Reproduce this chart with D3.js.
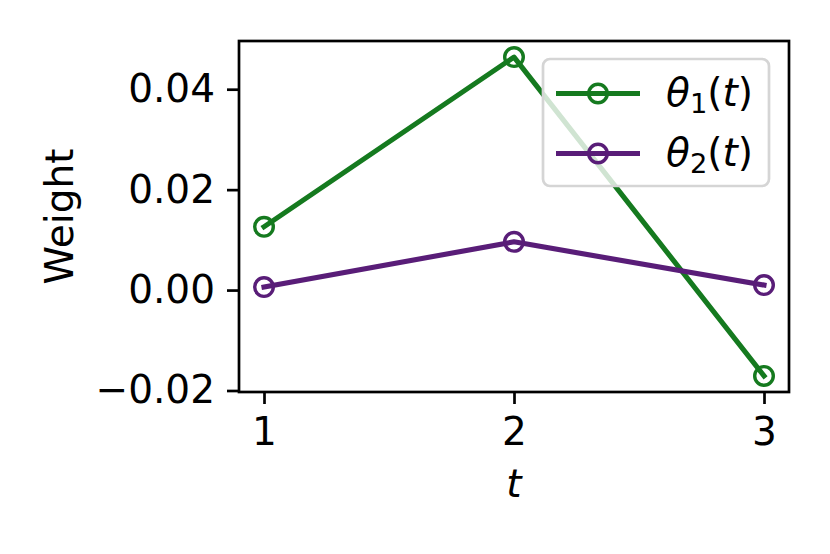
<!DOCTYPE html>
<html>
<head>
<meta charset="utf-8">
<script src="https://cdn.jsdelivr.net/npm/d3@7"></script>
<style>
  body { margin: 0; background: #fff; }
  svg { display: block; font-family: "DejaVu Sans", sans-serif; }
</style>
</head>
<body>
<svg id="chart" width="830" height="554"></svg>
<script>
const tValues = [1, 2, 3];
const theta1 = [0.0126, 0.0464, -0.0171];
const theta2 = [0.0006, 0.0096, 0.0010];
const seriesNames = ["1", "2"];
const yTicks = [-0.02, 0.00, 0.02, 0.04];
const xTicks = [1, 2, 3];
const colors = ["#157a1f", "#591d78"];

const svg = d3.select("#chart");
const m = { left: 239, right: 789, top: 41, bottom: 392 };
const fs = 39;

const x = d3.scaleLinear().domain([0.9, 3.1]).range([m.left, m.right]);
const yMin = -0.0203, yMax = 0.0496;
const y = d3.scaleLinear().domain([yMin, yMax]).range([m.bottom, m.top]);

// axes
const xAxis = d3.axisBottom(x).tickValues(xTicks).tickFormat(d3.format("d")).tickSize(12).tickPadding(13);
const yAxis = d3.axisLeft(y).tickValues(yTicks).tickFormat(d => d3.format(".2f")(d).replace("-", "\u2212")).tickSize(12).tickPadding(12);

const gx = svg.append("g").attr("transform", `translate(0,${m.bottom})`).call(xAxis);
const gy = svg.append("g").attr("transform", `translate(${m.left},0)`).call(yAxis);
[gx, gy].forEach(g => {
  g.select(".domain").remove();
  g.selectAll(".tick line").attr("stroke", "#000").attr("stroke-width", 2.7);
  g.selectAll(".tick text").attr("fill", "#000").style("font-size", fs + "px").style("font-family", "DejaVu Sans");
});

// data lines
const series = [theta1, theta2];
const line = d3.line().x((d, i) => x(tValues[i])).y(d => y(d));
series.forEach((s, k) => {
  svg.append("path").datum(s).attr("d", line)
    .attr("fill", "none").attr("stroke", colors[k]).attr("stroke-width", 5.1)
    .attr("stroke-linejoin", "round").attr("stroke-linecap", "square");
  svg.append("g").selectAll("circle").data(s).join("circle")
    .attr("cx", (d, i) => x(tValues[i])).attr("cy", d => y(d)).attr("r", 9.3)
    .attr("fill", "none").attr("stroke", colors[k]).attr("stroke-width", 3.4);
});

// frame
svg.append("rect").attr("x", m.left).attr("y", m.top)
  .attr("width", m.right - m.left).attr("height", m.bottom - m.top)
  .attr("fill", "none").attr("stroke", "#000").attr("stroke-width", 2.7);

// axis labels
svg.append("text").attr("x", (m.left + m.right) / 2).attr("y", 497)
  .attr("text-anchor", "middle").style("font-size", fs + "px").style("font-style", "italic").text("t");
svg.append("text").attr("transform", `translate(73,${(m.top + m.bottom) / 2}) rotate(-90)`)
  .attr("text-anchor", "middle").style("font-size", fs + "px").text("Weight");

// legend
const lg = svg.append("g");
lg.append("rect").attr("x", 543).attr("y", 59).attr("width", 226).attr("height", 127)
  .attr("rx", 7).attr("fill", "#fff").attr("fill-opacity", 0.8)
  .attr("stroke", "#d5d5d5").attr("stroke-width", 2.7);
const rowY = [93.5, 153.5];
seriesNames.forEach((n, k) => {
  const yy = rowY[k];
  lg.append("line").attr("x1", 556).attr("x2", 640).attr("y1", yy).attr("y2", yy)
    .attr("stroke", colors[k]).attr("stroke-width", 5.1);
  lg.append("circle").attr("cx", 598).attr("cy", yy).attr("r", 9.3)
    .attr("fill", "none").attr("stroke", colors[k]).attr("stroke-width", 3.4);
  const t = lg.append("text").attr("x", 666).attr("y", yy + 12).style("font-size", fs + "px");
  t.append("tspan").style("font-style", "italic").text("\u03b8");
  t.append("tspan").attr("dy", 7).style("font-size", (fs * 0.7) + "px").text(n);
  t.append("tspan").attr("dy", -7).text("(");
  t.append("tspan").style("font-style", "italic").text("t");
  t.append("tspan").text(")");
});
</script>
</body>
</html>
